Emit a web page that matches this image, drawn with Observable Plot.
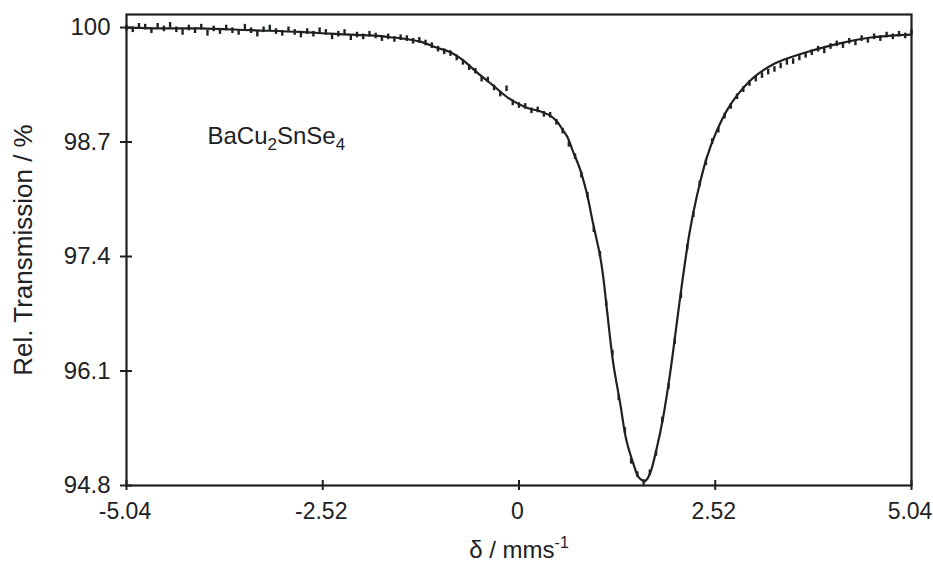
<!DOCTYPE html>
<html><head><meta charset="utf-8">
<script src="https://cdn.jsdelivr.net/npm/d3@7"></script>
<script src="https://cdn.jsdelivr.net/npm/@observablehq/plot@0.6"></script>
<style>body{margin:0;background:#fff}</style>
</head><body><div id="chart"></div>
<script>
// Fitted curve
const fitX = [-5.04,-4.60,-4.09,-3.45,-2.81,-2.42,-2.17,-1.91,-1.65,-1.49,-1.27,-1.05,-0.88,-0.72,-0.54,-0.33,-0.12,0.10,0.27,0.40,0.49,0.56,0.62,0.69,0.78,0.87,0.95,1.04,1.08,1.13,1.21,1.30,1.38,1.49,1.53,1.58,1.62,1.68,1.77,1.85,1.94,2.03,2.09,2.19,2.28,2.41,2.54,2.67,2.80,2.96,3.05,3.26,3.48,3.69,4.12,4.54,5.04];
const fitY = [100.00,99.99,99.99,99.97,99.95,99.93,99.92,99.91,99.89,99.875,99.84,99.77,99.72,99.63,99.49,99.34,99.19,99.09,99.05,99.00,98.93,98.84,98.76,98.60,98.40,98.12,97.78,97.41,97.18,96.79,96.19,95.73,95.31,94.99,94.90,94.86,94.85,94.93,95.23,95.57,96.07,96.67,97.07,97.67,98.07,98.52,98.83,99.06,99.23,99.39,99.46,99.58,99.66,99.72,99.82,99.89,99.92];

const dataX = [-5.04,-4.96,-4.88,-4.80,-4.72,-4.64,-4.56,-4.48,-4.40,-4.32,-4.24,-4.16,-4.08,-4.00,-3.92,-3.84,-3.76,-3.68,-3.60,-3.52,-3.44,-3.36,-3.28,-3.20,-3.12,-3.04,-2.96,-2.88,-2.80,-2.72,-2.64,-2.56,-2.48,-2.40,-2.32,-2.24,-2.16,-2.08,-2.00,-1.92,-1.84,-1.76,-1.68,-1.60,-1.52,-1.44,-1.36,-1.28,-1.20,-1.12,-1.04,-0.96,-0.88,-0.80,-0.72,-0.64,-0.56,-0.48,-0.40,-0.32,-0.24,-0.16,-0.08,0.00,0.08,0.16,0.24,0.32,0.40,0.48,0.56,0.64,0.72,0.80,0.88,0.96,1.04,1.12,1.20,1.28,1.36,1.44,1.52,1.60,1.68,1.76,1.84,1.92,2.00,2.08,2.16,2.24,2.32,2.40,2.48,2.56,2.64,2.72,2.80,2.88,2.96,3.04,3.12,3.20,3.28,3.36,3.44,3.52,3.60,3.68,3.76,3.84,3.92,4.00,4.08,4.16,4.24,4.32,4.40,4.48,4.56,4.64,4.72,4.80,4.88,4.96,5.04];
const dataY = [100.00,99.98,100.02,100.01,99.97,100.02,99.99,100.03,99.98,99.95,
100.00,99.97,100.01,99.94,99.99,99.96,100.00,99.97,99.95,100.01,
99.97,99.93,99.98,100.00,99.96,99.94,99.98,99.95,99.92,99.96,
99.93,99.97,99.95,99.90,99.93,99.95,99.89,99.92,99.90,99.93,
99.91,99.88,99.90,99.87,99.89,99.88,99.85,99.86,99.83,99.80,
99.76,99.73,99.71,99.66,99.61,99.55,99.51,99.42,99.41,99.32,
99.25,99.31,99.15,99.12,99.11,99.06,99.07,99.02,99.01,98.93,
98.83,98.68,98.54,98.33,98.10,97.71,97.43,96.87,96.31,95.80,
95.43,95.08,94.93,94.84,94.95,95.17,95.55,95.93,96.44,96.96,
97.51,97.88,98.23,98.47,98.71,98.84,99.00,99.11,99.22,99.30,
99.37,99.42,99.46,99.50,99.53,99.57,99.61,99.62,99.66,99.69,
99.72,99.76,99.74,99.79,99.82,99.80,99.85,99.83,99.88,99.86,
99.90,99.88,99.92,99.90,99.93,99.91,99.95];

const xTicks = [-5.04,-2.52,0,2.52,5.04];
const xTickLabels = ["-5.04","-2.52","0","2.52","5.04"];
const yTicks = [94.8,96.1,97.4,98.7,100];
const yTickLabels = ["94.8","96.1","97.4","98.7","100"];
const xLabel = "δ / mms-1";
const yLabel = "Rel. Transmission / %";
const sampleLabel = [{x: -4.0, y: 98.76, text: "BaCu2SnSe4"}];

const fit = fitX.map((x, i) => ({x, y: fitY[i]}));
const points = dataX.map((x, i) => ({x, y: dataY[i]}));

const barSymbol = {draw(ctx) { ctx.moveTo(-1.2,-2.8); ctx.lineTo(1.2,-2.8); ctx.lineTo(1.2,2.8); ctx.lineTo(-1.2,2.8); ctx.closePath(); }};
const ink = "#1d2124";

const chart = Plot.plot({
  width: 933, height: 575,
  marginLeft: 126, marginRight: 22, marginTop: 14, marginBottom: 90,
  x: {domain: [-5.04, 5.04]},
  y: {domain: [94.8, 100.148]},
  style: {fontFamily: '"Liberation Sans", Arial, sans-serif', fontSize: "24px", color: ink, background: "#fff"},
  marks: [
    Plot.axisX({ticks: xTicks, tickSize: 10, dy: -5, tickFormat: () => "", label: null, strokeWidth: 2}),
    Plot.axisX({ticks: xTicks, tickSize: 0, tickPadding: 17, dx: -1.5, fontSize: 23, tickFormat: d => xTickLabels[xTicks.indexOf(d)], label: null}),
    Plot.axisY({ticks: yTicks, tickSize: 12, dx: 6, tickFormat: () => "", label: null, strokeWidth: 2}),
    Plot.axisY({ticks: yTicks, tickSize: 0, tickPadding: 16, tickFormat: d => yTickLabels[yTicks.indexOf(d)], label: null}),
    Plot.frame({stroke: ink, strokeWidth: 2.2}),
    Plot.dot(points, {x: "x", y: "y", symbol: barSymbol, r: 2, fill: ink, stroke: null}),
    Plot.line(fit, {x: "x", y: "y", curve: "catmull-rom", stroke: ink, strokeWidth: 2.2}),
    Plot.text(sampleLabel, {x: "x", y: "y", text: "text", textAnchor: "start", fill: ink}),
    Plot.text([xLabel], {frameAnchor: "bottom", dy: 72, text: d => d, fill: ink}),
    Plot.text([yLabel], {frameAnchor: "left", textAnchor: "middle", rotate: -90, dx: -103, fontSize: 26, text: d => d, fill: ink})
  ]
});
document.getElementById("chart").appendChild(chart);

function richText(el, parts) {
  el.textContent = "";
  let cur = 0;
  for (const [s, shift, size] of parts) {
    const t = document.createElementNS("http://www.w3.org/2000/svg", "tspan");
    t.textContent = s;
    if (shift !== cur) { t.setAttribute("dy", (shift - cur) + "px"); cur = shift; }
    if (size) t.setAttribute("font-size", size + "px");
    el.appendChild(t);
  }
}
chart.querySelectorAll("text").forEach(el => {
  if (el.textContent === "BaCu2SnSe4") richText(el, [["BaCu",0],["2",6,17],["SnSe",0],["4",6,17]]);
  else if (el.textContent === xLabel) richText(el, [["δ / mms",0],["-1",-10,16]]);
});
</script>
</body></html>
